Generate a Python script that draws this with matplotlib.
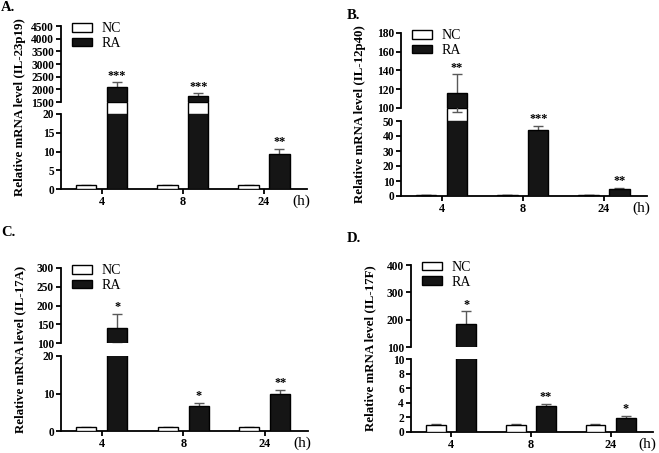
import numpy as np
import matplotlib.pyplot as plt
from matplotlib import rcParams
rcParams['font.family'] = 'serif'
rcParams['font.serif'] = ['Liberation Serif', 'DejaVu Serif']
rcParams['font.weight'] = 'bold'

hours = ['4', '8', '24']
legend_labels = ['NC', 'RA']

# A. IL-23p19
a_nc = [1.0, 1.0, 1.0]
a_nc_err = [0.12, 0.12, 0.12]
a_ra = [2100, 1730, 9.4]
a_ra_err = [180, 110, 1.3]
a_stars = ['***', '***', '**']

# B. IL-12p40
b_nc = [0.9, 0.8, 0.9]
b_nc_err = [0.1, 0.1, 0.1]
b_ra = [116, 44, 4.8]
b_ra_err = [20, 3, 0.5]
b_stars = ['**', '***', '**']

# C. IL-17A
c_nc = [1.0, 1.0, 1.0]
c_nc_err = [0.12, 0.12, 0.12]
c_ra = [140, 6.8, 10.0]
c_ra_err = [37, 0.7, 1.0]
c_stars = ['*', '*', '**']

# D. IL-17F
d_nc = [1.0, 1.0, 1.0]
d_nc_err = [0.08, 0.08, 0.08]
d_ra = [183, 3.6, 1.95]
d_ra_err = [47, 0.3, 0.3]
d_stars = ['*', '**', '*']

W, H = 659, 453
fig = plt.figure(figsize=(W / 100, H / 100), dpi=100)


def px(l, r, t, b):
    return [l / W, 1 - b / H, (r - l) / W, (b - t) / H]


def panel(letter, letter_xy, ylabel, nc, nc_err, ra, ra_err, stars,
          left, right, hi_tb, lo_tb, lo_lim, lo_ticks, hi_lim, hi_ticks, gap_box):
    x = np.arange(len(hours))
    ra = np.array(ra, dtype=float)
    ra_err = np.array(ra_err, dtype=float)
    w, off = 0.25, 0.19
    xl = (-0.5, 2.53)
    if gap_box:
        axg = fig.add_axes(px(left, right, hi_tb[1], lo_tb[0]))
        axg.set_xlim(xl)
        axg.set_ylim(0, 1)
        axg.axis('off')
        big = ra > lo_lim[1]
        axg.bar(x[big] + off, 1, w, color='white', edgecolor='black', lw=1)
    ax_lo = fig.add_axes(px(left, right, lo_tb[0], lo_tb[1]))
    ax_hi = fig.add_axes(px(left, right, hi_tb[0], hi_tb[1]))
    for ax in (ax_lo, ax_hi):
        ax.patch.set_visible(False)
        b1 = ax.bar(x - off, nc, w, color='white', edgecolor='black', lw=1, zorder=3)
        b2 = ax.bar(x + off, ra, w, color='#151515', edgecolor='black', lw=1, zorder=3)
        ax.set_xlim(xl)
        for s in ('top', 'right'):
            ax.spines[s].set_visible(False)
        for s in ('left', 'bottom'):
            ax.spines[s].set_linewidth(1.3)
        ax.tick_params(direction='out', length=3.5, width=1.3, labelsize=8.3, pad=1.5)
    ax_lo.errorbar(x - off, nc, yerr=nc_err, fmt='none', ecolor='0.35',
                   elinewidth=1, capsize=3.5, capthick=1, zorder=2)
    ax_lo.errorbar(x + off, ra, yerr=ra_err, fmt='none', ecolor='0.35',
                   elinewidth=1, capsize=3.5, capthick=1, zorder=2)
    big = ra > hi_lim[0]
    ax_hi.errorbar(x[big] + off, ra[big], yerr=ra_err[big], fmt='none', ecolor='0.35',
                   elinewidth=1, capsize=3.5, capthick=1, zorder=2, clip_on=False)
    ax_lo.set_ylim(lo_lim)
    ax_lo.set_yticks(lo_ticks)
    ax_hi.set_ylim(hi_lim)
    ax_hi.set_yticks(hi_ticks)
    ax_hi.spines['bottom'].set_visible(False)
    ax_hi.set_xticks([])
    ax_lo.set_xticks(x)
    ax_lo.set_xticklabels(hours, fontsize=8.8)
    ax_lo.tick_params(axis='x', pad=1.5)

    for i in range(len(hours)):
        top = ra[i] + ra_err[i]
        ax = ax_hi if top > lo_lim[1] else ax_lo
        ax.annotate(stars[i], (x[i] + off, top), xytext=(0, 0.5),
                    textcoords='offset points', ha='center', va='bottom',
                    fontsize=8.8, fontweight='bold')

    ax_lo.annotate('(h)', (1.0, 0), xycoords='axes fraction', xytext=(2, -4),
                   textcoords='offset points', ha='right', va='top',
                   fontsize=11, fontweight='normal')

    ax_hi.legend([b1, b2], legend_labels, loc='upper left', bbox_to_anchor=(0.045, 1.05),
                 frameon=False, prop={'size': 10, 'weight': 'normal'},
                 handlelength=1.45, handleheight=0.6, labelspacing=0.12,
                 handletextpad=0.7, borderaxespad=0, borderpad=0)

    yc = 1 - (hi_tb[0] + lo_tb[1]) / 2 / H
    fig.text((left - 41) / W, yc, ylabel, rotation=90, ha='center', va='center',
             fontsize=9.3, fontweight='bold')
    fig.text(letter_xy[0] / W, 1 - letter_xy[1] / H, letter, ha='left', va='baseline',
             fontsize=10.5, fontweight='bold')


panel('A.', (1, 11), 'Relative mRNA level (IL-23p19)', a_nc, a_nc_err, a_ra, a_ra_err, a_stars,
      61, 307, (26, 102), (114, 189), (0, 20), [0, 5, 10, 15, 20],
      (1500, 4500), np.arange(1500, 4501, 500), True)
panel('B.', (347, 19), 'Relative mRNA level (IL-12p40)', b_nc, b_nc_err, b_ra, b_ra_err, b_stars,
      401, 647, (33, 108), (121, 196), (0, 50), np.arange(0, 51, 10),
      (100, 180), np.arange(100, 181, 20), True)
panel('C.', (1, 236), 'Relative mRNA level (IL-17A)', c_nc, c_nc_err, c_ra, c_ra_err, c_stars,
      61, 308, (268, 343), (356, 431), (0, 20), [0, 10, 20],
      (100, 300), np.arange(100, 301, 50), False)
panel('D.', (347, 242), 'Relative mRNA level (IL-17F)', d_nc, d_nc_err, d_ra, d_ra_err, d_stars,
      411, 653, (265, 347), (359, 432), (0, 10), np.arange(0, 11, 2),
      (100, 400), np.arange(100, 401, 100), False)

fig.savefig('out.png', dpi=100)
